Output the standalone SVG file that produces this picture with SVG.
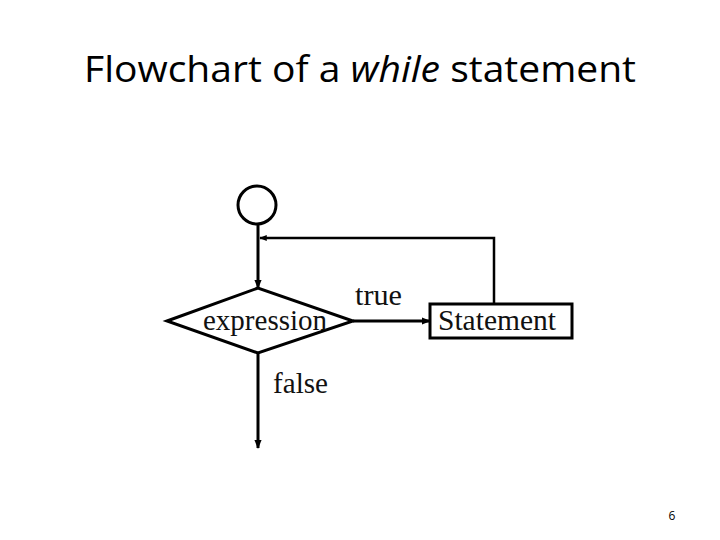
<svg xmlns="http://www.w3.org/2000/svg" width="720" height="540" viewBox="0 0 720 540">
<style>
.ln{stroke:#000;stroke-width:3;fill:none}
.thin{stroke:#000;stroke-width:2.5;fill:none}
.shape{stroke:#000;stroke-width:3;fill:#fff}
.tm{font-family:"Liberation Serif",serif;font-size:29px;fill:#111}
.title{font-family:"Open Sans","Liberation Sans",sans-serif;font-size:36px;fill:#000}
</style>
<defs>
<marker id="arr" viewBox="0 0 10 10" refX="9" refY="5" markerWidth="3" markerHeight="3" orient="auto" markerUnits="strokeWidth">
<path d="M0,1 L10,5 L0,9 z" fill="#000"/>
</marker>
</defs>
<rect width="720" height="540" fill="#fff"/>
<text class="title" x="360" y="82" text-anchor="middle" textLength="552" lengthAdjust="spacingAndGlyphs">Flowchart of a <tspan font-style="italic">while</tspan> statement</text>
<g id="connectors">
<line class="ln" x1="258" y1="224" x2="258" y2="288" marker-end="url(#arr)"/>
<polyline class="thin" points="494,303 494,238 260,238" marker-end="url(#arr)"/>
<line class="ln" x1="353" y1="321" x2="430" y2="321" marker-end="url(#arr)"/>
<line class="ln" x1="258" y1="353" x2="258" y2="448" marker-end="url(#arr)"/>
<text class="tm" x="355" y="305" textLength="47" lengthAdjust="spacingAndGlyphs">true</text>
<text class="tm" x="273" y="393" textLength="55" lengthAdjust="spacingAndGlyphs">false</text>
</g>
<g id="start">
<circle class="shape" cx="257" cy="205" r="19"/>
</g>
<g id="expression">
<polygon class="shape" points="167,321 258,288 353,321 258,353"/>
<text class="tm" x="203" y="330" textLength="124" lengthAdjust="spacingAndGlyphs">expression</text>
</g>
<g id="statement">
<rect class="shape" x="430" y="304" width="142" height="34"/>
<text class="tm" x="438" y="330" textLength="118" lengthAdjust="spacingAndGlyphs">Statement</text>
</g>
<text x="672" y="520" text-anchor="middle" font-family="Open Sans, Liberation Sans, sans-serif" font-size="12" fill="#000">6</text>
</svg>
